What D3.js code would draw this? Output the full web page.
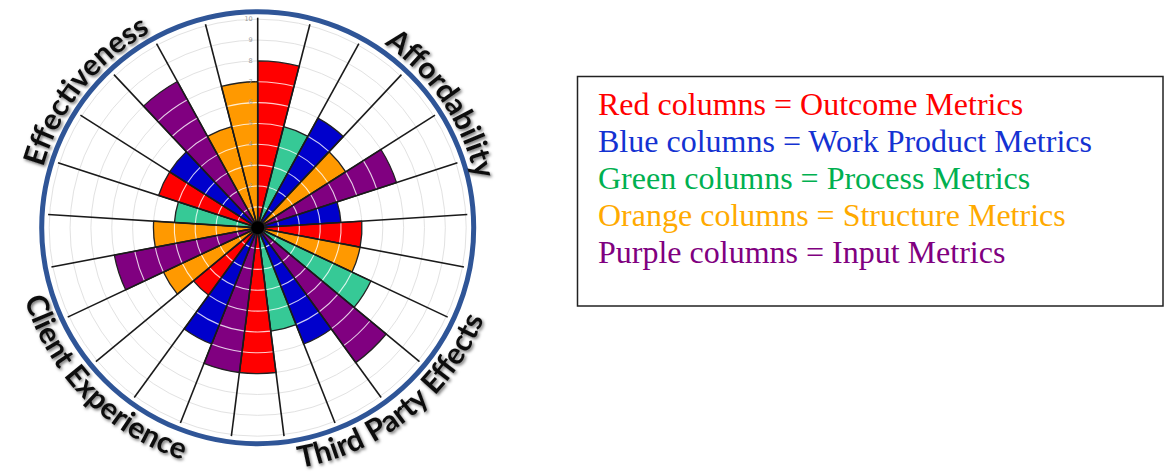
<!DOCTYPE html>
<html>
<head>
<meta charset="utf-8">
<script src="https://cdn.jsdelivr.net/npm/d3@7/dist/d3.min.js"></script>
<style>
  html, body { margin: 0; padding: 0; background: #ffffff; }
  svg { display: block; }
</style>
</head>
<body>
<svg id="chart" width="1166" height="473"></svg>
<script>
// ---------------- DATA ----------------
const metricTypes  = ["Outcome", "Work Product", "Process", "Structure", "Input"];
const metricColors = ["#FF0000", "#0000CC", "#36C996", "#FF9900", "#800080"];

// 25 polar columns, clockwise from 12 o'clock
const segmentTypes = [
  "Outcome", "Process", "Work Product", "Structure", "Input",
  "Work Product", "Outcome", "Structure", "Process", "Input",
  "Work Product", "Process", "Outcome", "Input", "Work Product",
  "Outcome", "Structure", "Input", "Structure", "Process",
  "Outcome", "Work Product", "Input", "Structure", "Structure"
];
const segmentValues = [
  8, 5, 6, 5, 7,
  4, 5, 5, 6, 8,
  6, 5, 7, 7, 6,
  4, 5, 7, 5, 4,
  5, 5, 8, 5, 7
];
const radialTicks = [1, 2, 3, 4, 5, 6, 7, 8, 9, 10];

const dimensionLabels = ["Effectiveness", "Affordability", "Third Party Effects", "Client Experience"];

const legendColorNames = ["Red", "Blue", "Green", "Orange", "Purple"];
const legendMetrics    = ["Outcome Metrics", "Work Product Metrics", "Process Metrics", "Structure Metrics", "Input Metrics"];
const legendColors     = ["#FF0000", "#1432D2", "#00B050", "#FFAA00", "#800080"];

// ---------------- LAYOUT ----------------
const svg = d3.select("#chart");
const cx = 257.7, cy = 227.7;
const rMax = 208.5;

const angle = d3.scaleBand()
  .domain(d3.range(segmentValues.length))
  .range([0, 2 * Math.PI])
  .paddingInner(0).paddingOuter(0);

const r = d3.scaleLinear().domain([0, 10]).range([0, rMax]);
const color = d3.scaleOrdinal().domain(metricTypes).range(metricColors);

const defs = svg.append("defs");
const f = defs.append("filter").attr("id", "shadow")
  .attr("x", "-20%").attr("y", "-20%").attr("width", "140%").attr("height", "140%");
f.append("feDropShadow").attr("dx", 1.5).attr("dy", 1.8)
  .attr("stdDeviation", 1.6).attr("flood-color", "#000").attr("flood-opacity", 0.55);

const g = svg.append("g").attr("transform", `translate(${cx},${cy})`);

// grid circles
g.append("g").selectAll("circle").data(radialTicks).join("circle")
  .attr("r", d => r(d))
  .attr("fill", "none")
  .attr("stroke", "#e2e2e2")
  .attr("stroke-width", 1);

const data = segmentValues.map((v, i) => ({ i, value: v, type: segmentTypes[i] }));

// bars
const arc = d3.arc()
  .innerRadius(0)
  .outerRadius(d => r(d.value))
  .startAngle(d => angle(d.i))
  .endAngle(d => angle(d.i) + angle.bandwidth());

g.append("g").selectAll("path").data(data).join("path")
  .attr("d", arc)
  .attr("fill", d => color(d.type))
  .attr("stroke", "#222")
  .attr("stroke-width", 1.3)
  .attr("stroke-linejoin", "round");

// white grid arcs inside bars
const innerArcs = [];
data.forEach(d => {
  radialTicks.filter(t => t < d.value).forEach(t => innerArcs.push({ d, t }));
});
g.append("g").selectAll("path").data(innerArcs).join("path")
  .attr("d", o => {
    const p = d3.path();
    const a0 = angle(o.d.i) - Math.PI / 2, a1 = angle(o.d.i) + angle.bandwidth() - Math.PI / 2;
    const rr = r(o.t);
    p.moveTo(rr * Math.cos(a0), rr * Math.sin(a0));
    p.arc(0, 0, rr, a0, a1);
    return p.toString();
  })
  .attr("fill", "none")
  .attr("stroke", "#ffffff")
  .attr("stroke-opacity", 0.8)
  .attr("stroke-width", 1.1);

// spokes
g.append("g").selectAll("line").data(data).join("line")
  .attr("x1", 0).attr("y1", 0)
  .attr("x2", d => (r(10) + 1.5) * Math.sin(angle(d.i)))
  .attr("y2", d => -(r(10) + 1.5) * Math.cos(angle(d.i)))
  .attr("stroke", "#1a1a1a")
  .attr("stroke-width", 1.6);

// tick labels
g.append("g").selectAll("text").data(radialTicks).join("text")
  .attr("x", -5)
  .attr("y", d => -r(d))
  .attr("text-anchor", "end")
  .attr("dominant-baseline", "middle")
  .attr("font-family", "DejaVu Sans, sans-serif")
  .attr("font-size", 6.5)
  .attr("fill", "#9a9a9a")
  .text(d => d);

// center dot
g.append("circle").attr("r", 6.5).attr("fill", "#000");

// outer blue ring
g.append("circle")
  .attr("r", 216)
  .attr("fill", "none")
  .attr("stroke", "#2F5597")
  .attr("stroke-width", 5);

// curved labels
const labelLayout = [
  { text: dimensionLabels[0], center: -51.5, radius: 223, outward: true },
  { text: dimensionLabels[1], center: 56.0,  radius: 223, outward: true },
  { text: dimensionLabels[2], center: 141.0, radius: 244, outward: false },
  { text: dimensionLabels[3], center: 225.5, radius: 244, outward: false }
];
const toXY = (deg, rad) => {
  const a = deg * Math.PI / 180;
  return [cx + rad * Math.sin(a), cy - rad * Math.cos(a)];
};
labelLayout.forEach((L, k) => {
  const id = "lblpath" + k;
  const a0 = L.outward ? L.center - 90 : L.center + 90;
  const a1 = L.outward ? L.center + 90 : L.center - 90;
  const p0 = toXY(a0, L.radius), p1 = toXY(a1, L.radius);
  defs.append("path").attr("id", id)
    .attr("d", `M${p0[0]},${p0[1]} A${L.radius},${L.radius} 0 0 ${L.outward ? 1 : 0} ${p1[0]},${p1[1]}`);
  svg.append("text")
    .attr("font-family", "Lato, 'Open Sans', sans-serif")
    .attr("font-weight", 700)
    .attr("font-size", 30)
    .attr("fill", "#111")
    .attr("filter", "url(#shadow)")
    .append("textPath")
    .attr("href", "#" + id)
    .attr("startOffset", "50%")
    .attr("text-anchor", "middle")
    .text(L.text);
});

// legend box
const legend = svg.append("g");
legend.append("rect")
  .attr("x", 577.5).attr("y", 76.5)
  .attr("width", 585.5).attr("height", 229.5)
  .attr("fill", "none")
  .attr("stroke", "#222")
  .attr("stroke-width", 1.5);
legend.selectAll("text").data(legendColorNames).join("text")
  .attr("x", 598)
  .attr("y", (d, i) => 115 + i * 37)
  .attr("font-family", "'Liberation Serif', 'Times New Roman', serif")
  .attr("font-size", 32)
  .attr("fill", (d, i) => legendColors[i])
  .text((d, i) => `${d} columns = ${legendMetrics[i]}`);
</script>
</body>
</html>
